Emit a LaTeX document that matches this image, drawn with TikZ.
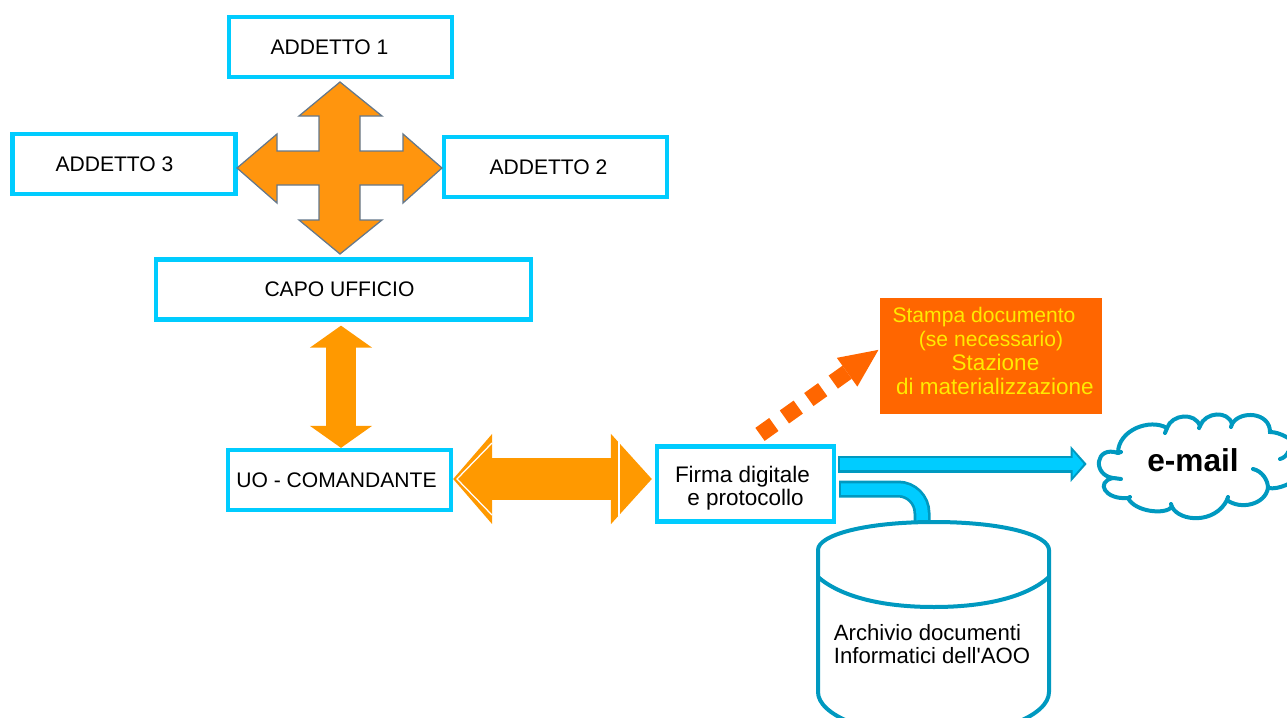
\documentclass[tikz,border=0pt]{standalone}
\usepackage{fontspec}
\setmainfont{Liberation Sans}
\usetikzlibrary{positioning,arrows.meta}
\definecolor{boxcyan}{HTML}{00CCFF}
\definecolor{crossorange}{HTML}{FF950E}
\definecolor{crossedge}{HTML}{64788C}
\definecolor{arroworange}{HTML}{FF9900}
\definecolor{stampaorange}{HTML}{FF6600}
\definecolor{stampayellow}{HTML}{FFEA00}
\definecolor{pipeteal}{HTML}{0099C0}
\tikzset{
  ufficio/.style={draw=boxcyan, line width=0.85mm, fill=white, minimum width=44.6mm, minimum height=12mm, font=\fontsize{12}{14}\selectfont},
  grossa/.style={arroworange, line width=6mm},
  pipeout/.style={pipeteal, line width=3.4mm},
  pipein/.style={boxcyan, line width=2.3mm},
  contorno/.style={draw=pipeteal, line width=0.8mm, fill=white},
  nuvola/.style={pipeteal, line width=0.8mm, line cap=round},
}
\begin{document}
\begin{tikzpicture}[x=0.2mm, y=-0.2mm]
    \useasboundingbox (0,0) rectangle (1287,718);
    % uffici
    \node[ufficio] (addetto1) at (340.5,47) {ADDETTO 1\hspace*{4.4mm}};
    \node[ufficio] (addetto3) at (124,164) {ADDETTO 3\hspace*{3.8mm}};
    \node[ufficio] (addetto2) at (555.5,167) {ADDETTO 2\hspace*{2.8mm}};
    \node[ufficio, minimum width=75mm] (capo) at (343.5,289.5) {CAPO UFFICIO\hspace*{1.6mm}};
    \node[ufficio] (uo) at (339.5,480) {UO - COMANDANTE\hspace*{1.2mm}};
    \node[ufficio, minimum width=35.4mm, minimum height=15mm, align=center, font=\fontsize{12.8}{13}\selectfont] (firma) at (745.5,484) {\rule{0pt}{4.9mm}Firma digitale\hspace*{1.2mm}\\e protocollo};
    % croce tra gli addetti
    \coordinate (croce) at (340,168);
    \filldraw[fill=crossorange, draw=crossedge, line width=0.25mm, shift={(croce)}]
      (0,-86) -- (42,-52) -- (20,-52) -- (20,-17) -- (63,-17) -- (63,-34) -- (102,0)
      -- (63,35) -- (63,17) -- (20,17) -- (20,52) -- (42,52) -- (0,86) -- (-41,52)
      -- (-21,52) -- (-21,17) -- (-63,17) -- (-63,35) -- (-103,0) -- (-63,-34)
      -- (-63,-17) -- (-21,-17) -- (-21,-52) -- (-41,-52) -- cycle;
    % frecce grosse
    \coordinate (asse) at (341,479);
    \draw[grossa, {Triangle[length=4.4mm,width=12.2mm]}-{Triangle[length=4.4mm,width=12.2mm]}, shorten <=0.8mm] (capo.south -| asse) -- (uo.north -| asse);
    \draw[grossa, line width=8.4mm, {Triangle[length=7.8mm,width=17.6mm]}-{Triangle[length=8.2mm,width=17.6mm]}, shorten >=0.6mm] (uo.east |- asse) -- (firma.west |- asse);
    \draw[white, line width=0.25mm] (492,443) -- (457,479) -- (492,515);
    \draw[white, line width=0.25mm] (619,441) -- (619,517);
    % stampa
    \node[fill=stampaorange, minimum width=44.4mm, minimum height=23.2mm] (stampa) at (991,356) {};
    \node[align=center, text=stampayellow, font=\fontsize{12}{13.5}\selectfont] (stampatxt) at (991,351)
      {Stampa documento\hspace*{2.8mm}\\(se necessario)\hspace*{1.6mm}\\
       \fontsize{12.8}{14}\selectfont\hspace*{1.8mm}Stazione\\\fontsize{12.8}{14}\selectfont\hspace*{1.6mm}di materializzazione};
    \draw[stampaorange, line width=3.2mm, dash pattern=on 3.4mm off 2.6mm, -{Triangle[length=8mm,width=6.4mm]}]
      ([xshift=2.9mm,yshift=2mm]firma.north) -- ([yshift=1.4mm]stampa.west);
    % email
    \node[minimum width=42.4mm, font=\bfseries\fontsize{18}{20}\selectfont] (email) at (1193,460) {e-mail};
    \draw[nuvola]
      (1118,453) .. controls (1095,445) and (1092,475) .. (1113,478)
      .. controls (1095,482) and (1105,500) .. (1128,498)
      .. controls (1135,512) and (1165,515) .. (1172,507)
      .. controls (1180,522) and (1215,524) .. (1227,500)
      .. controls (1240,510) and (1265,505) .. (1268,488)
      .. controls (1280,490) and (1292,482) .. (1300,478);
    \draw[nuvola]
      (1118,453) .. controls (1118,430) and (1150,418) .. (1167,428)
      .. controls (1172,414) and (1195,412) .. (1200,426)
      .. controls (1205,412) and (1228,410) .. (1232,424)
      .. controls (1240,410) and (1270,412) .. (1270,432)
      .. controls (1280,432) and (1295,440) .. (1300,450);
    % riccioli
    \draw[nuvola] (1167,428) -- (1165,433) (1118,453) -- (1121,452)
      (1113,478) -- (1121,479) (1253,469) .. controls (1262,471) and (1268,480) .. (1268,488)
      (1200,426) -- (1199,428) (1232,424) -- (1231,427) (1280,459) .. controls (1284,458) and (1287,455) .. (1288,452)
      (1128,498) -- (1130,497) (1172,507) -- (1171,504) (1227,500) -- (1228,497);
    \coordinate (posta) at (838,464);
    \draw[pipeout, -{Triangle[length=3.2mm,width=7mm]}] (posta) -- (email.west |- posta);
    \draw[pipein, -{Triangle[length=2.2mm,width=5mm]}, shorten >=0.6mm] ([xshift=0.4mm]posta) -- (email.west |- posta);
    % archivio
    \coordinate (condotto) at (839,489);
    \coordinate (imbocco) at (922,524);
    \draw[pipeout, rounded corners=4.8mm] (condotto) -- (condotto -| imbocco) -- (imbocco);
    \draw[pipein, rounded corners=4.8mm] ([xshift=0.4mm]condotto) -- (condotto -| imbocco) -- (imbocco);
    \draw[contorno] (818,550) .. controls (818,535) and (865,522) .. (934,522)
      .. controls (1003,522) and (1049,535) .. (1049,550) -- (1049,692)
      .. controls (1049,715) and (1000,736) .. (934,736)
      .. controls (868,736) and (818,715) .. (818,692) -- cycle;
    \draw[pipeteal, line width=0.8mm] (818,577) .. controls (840,596) and (880,607) .. (934,607)
      .. controls (988,607) and (1028,596) .. (1049,577);
    \node[align=left, font=\fontsize{12.6}{13}\selectfont] (archivio) at (932,644) {Archivio documenti\\Informatici dell\textquotesingle AOO};
  \end{tikzpicture}
\end{document}
